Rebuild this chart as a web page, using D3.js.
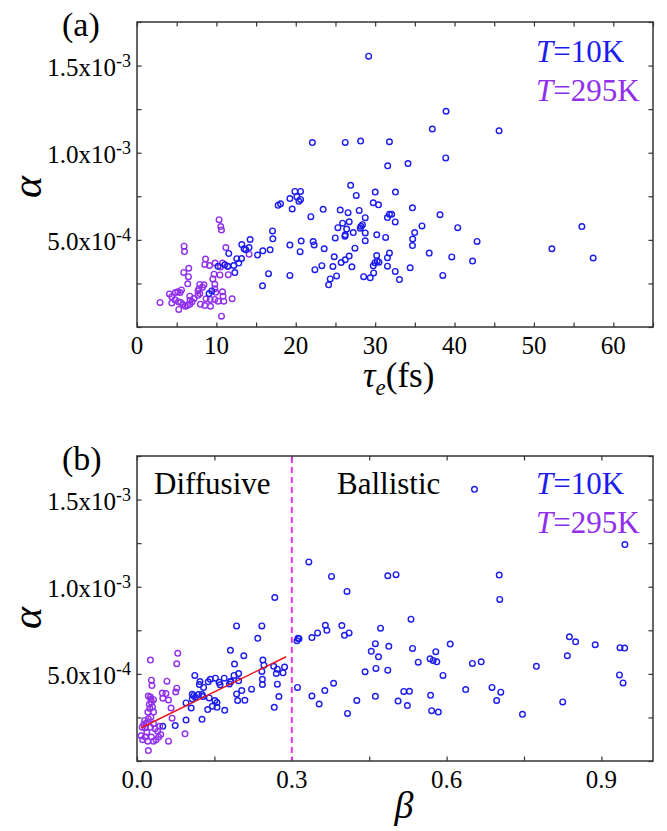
<!DOCTYPE html>
<html>
<head>
<meta charset="utf-8">
<script src="https://cdn.jsdelivr.net/npm/d3@7"></script>
<style>
  body { margin: 0; background: #fff; }
  svg text { font-family: "Times New Roman", Times, "Liberation Serif", "DejaVu Serif", "Noto Serif", serif; }
  .tick line { stroke: #333; stroke-width: 1.2; }
</style>
</head>
<body>
<script>
// alpha values are stored in units of 1e-4
const ALPHA_UNIT = 1e-4;

// panel (a): alpha vs tau_e (fs)
const tau10K = [29.18, 22.09, 38.93, 37.2, 45.61, 26.23, 28.17, 31.8, 31.58, 34.14, 38.89, 26.91, 27.62, 30.01, 32.56,
  19.89, 20.6, 20.14, 20.39, 20.6, 19.26, 19.55, 17.78, 18.08, 23.45, 21.9, 25.6, 26.59, 27.99, 29.76, 30.42, 34.7, 38.17,
  25.9, 26.73, 28.75, 31.55, 31.8, 32.08, 32.53, 25.31, 26.41, 28.21, 28.4, 28.12, 27.24, 28.75, 26.23, 26.19, 24.97,
  30.2, 31.32, 28.75, 35.9, 34.98, 34.73, 34.7, 40.4, 42.84, 56.04, 52.26, 57.46, 19.26, 20.68, 20.55, 22.19, 22.32,
  23.58, 27.45, 24.84, 26.73, 26.23, 25.72, 30.19, 30.26, 29.97, 30.48, 31.8, 31.55, 36.81, 39.65, 42.27, 23.29, 22.41,
  24.68, 25.14, 27.07, 29.76, 29.81, 31.55, 32.53, 34.41, 38.52, 24.34, 24.14, 28.55, 29.38, 33.06, 19.26, 17.07, 17.11,
  14.25, 13.2, 13.49, 13.71, 14.12, 11.56, 12.57, 13.17, 15.18, 15.85, 16.77, 12.82, 12.19, 12.32, 11.06, 11.44, 10.21,
  16.57, 15.81, 9.42, 9.08];
const alphaTau10K = [15.54, 10.58, 12.38, 11.36, 11.26, 10.59, 10.67, 10.63, 9.25, 9.38, 9.70, 8.13, 7.55, 7.74, 7.74,
  7.78, 7.78, 7.48, 7.21, 7.32, 7.37, 6.77, 6.98, 7.07, 6.75, 6.33, 6.71, 6.56, 6.69, 7.13, 7.01, 6.84, 6.44,
  5.96, 6.04, 6.27, 6.28, 6.47, 6.47, 6.03, 5.70, 5.62, 5.78, 5.87, 5.67, 5.42, 5.40, 5.29, 5.21, 5.11,
  5.29, 5.14, 4.95, 5.80, 5.42, 5.05, 4.67, 5.70, 4.91, 5.76, 4.49, 3.96, 4.70, 4.93, 4.32, 4.90, 4.71,
  4.49, 4.52, 4.03, 4.07, 3.86, 3.70, 4.10, 3.78, 3.69, 3.72, 4.24, 3.98, 4.24, 4.02, 3.78, 3.52, 3.29,
  3.47, 2.93, 3.45, 3.51, 3.10, 3.49, 3.19, 3.40, 2.96, 2.76, 2.42, 2.89, 2.82, 2.72, 2.96, 5.51, 5.06,
  5.02, 4.73, 4.49, 4.43, 4.56, 4.22, 3.92, 3.93, 4.13, 4.37, 4.43, 3.67, 3.53, 3.12, 3.57, 3.48, 3.48,
  3.06, 2.36, 2.07, 1.92];

const tau295K = [10.34, 10.55, 10.64, 5.93, 5.98, 11.19, 14.12, 8.63, 8.54, 9.13, 9.84, 10.77, 10.52, 11.44, 6.52,
  5.89, 6.48, 9.71, 9.55, 9.80, 9.80, 10.45, 11.5, 6.39, 7.91, 8.44, 7.81, 8.25, 7.69, 7.91, 7.69, 5.60, 5.42,
  5.13, 4.84, 4.09, 4.38, 9.92, 10.77, 10.84, 11.98, 6.65, 7.19, 6.68, 6.94, 4.79, 4.38, 5.22, 5.51, 5.80, 6.10,
  6.36, 6.65, 2.90, 5.26, 8.70, 9.21, 9.80, 10.21, 10.93, 7.99, 8.54, 9.26, 10.64];
const alphaTau295K = [6.16, 5.76, 5.57, 4.64, 4.33, 4.56, 4.18, 3.90, 3.59, 3.53, 3.67, 3.67, 3.44, 3.49, 3.37,
  3.13, 2.89, 3.03, 2.76, 2.45, 2.19, 2.99, 3.0, 2.48, 2.44, 2.42, 2.20, 2.28, 2.07, 1.92, 1.82, 2.13, 1.98,
  2.02, 1.98, 1.90, 1.73, 1.99, 2.02, 1.77, 1.62, 1.77, 1.63, 1.54, 1.45, 1.56, 1.37, 1.45, 1.41, 1.29, 1.19,
  1.25, 1.31, 1.41, 1.01, 1.62, 1.58, 1.58, 1.48, 1.48, 1.31, 1.23, 1.19, 0.62];

// panel (b): alpha vs beta
const beta10K = [0.654, 0.9455, 0.377, 0.486, 0.502, 0.702, 0.703, 0.407, 0.531, 0.397, 0.472, 0.333, 0.365, 0.368,
  0.402, 0.411, 0.350, 0.339, 0.312, 0.310, 0.193, 0.242, 0.234, 0.181, 0.207, 0.189, 0.244, 0.246, 0.265, 0.272,
  0.286, 0.242, 0.270, 0.283, 0.243, 0.243, 0.272, 0.275, 0.266, 0.311, 0.339, 0.353, 0.364, 0.381, 0.462, 0.454,
  0.468, 0.488, 0.534, 0.545, 0.607, 0.579, 0.568, 0.574, 0.581, 0.442, 0.463, 0.486, 0.593, 0.650, 0.667, 0.774,
  0.838, 0.850, 0.834, 0.888, 0.936, 0.945, 0.935, 0.942, 0.426, 0.408, 0.462, 0.506, 0.524, 0.517, 0.528, 0.569,
  0.571, 0.584, 0.637, 0.688, 0.705, 0.697, 0.747, 0.825, 0.267, 0.197, 0.188, 0.197, 0.169, 0.159, 0.152, 0.181,
  0.182, 0.179, 0.193, 0.203, 0.222, 0.195, 0.209, 0.170, 0.142, 0.138, 0.129, 0.122, 0.121, 0.126, 0.128, 0.140,
  0.151, 0.137, 0.146, 0.155, 0.155, 0.112, 0.107, 0.110, 0.107, 0.113, 0.119, 0.095, 0.105, 0.095, 0.074, 0.126,
  0.050, 0.161, 0.314];
const alphaBeta10K = [15.59, 12.42, 10.59, 10.63, 10.69, 10.67, 9.27, 9.73, 8.14, 7.77, 7.62, 11.42, 7.79, 7.50,
  7.21, 7.35, 7.35, 7.08, 7.04, 6.90, 7.75, 7.75, 7.04, 6.35, 6.04, 5.56, 5.79, 5.50, 5.43, 5.27,
  5.39, 5.14, 5.02, 5.06, 4.69, 4.39, 4.41, 3.70, 3.08, 4.22, 3.73, 3.27, 4.04, 4.46, 6.73, 6.29,
  5.98, 6.58, 6.46, 5.67, 6.71, 6.27, 5.86, 5.77, 5.69, 5.12, 5.31, 5.21, 4.91, 5.60, 5.69, 5.43,
  7.13, 6.84, 6.04, 6.67, 6.50, 6.48, 4.94, 4.48, 3.47, 2.73, 3.71, 3.44, 3.18, 3.99, 4.00, 3.77,
  2.89, 2.81, 4.10, 4.22, 3.95, 3.47, 2.68, 3.39, 9.38, 5.02, 4.91, 4.60, 4.75, 4.52, 4.75, 4.54,
  4.58, 4.42, 3.85, 4.04, 4.12, 3.47, 3.48, 2.91, 4.69, 4.54, 4.22, 4.56, 4.39, 3.81, 3.70, 3.62,
  3.47, 2.95, 3.14, 3.35, 3.08, 4.91, 3.83, 3.75, 3.56, 3.66, 3.81, 3.33, 3.04, 2.35, 2.03, 2.39,
  1.99, 4.37, 7.02];

const beta295K = [0.026, 0.079, 0.077, 0.028, 0.029, 0.058, 0.077, 0.075, 0.056, 0.061, 0.050, 0.022, 0.026, 0.028,
  0.030, 0.032, 0.027, 0.022, 0.018, 0.013, 0.016, 0.026, 0.032, 0.008, 0.011, 0.016, 0.021, 0.028, 0.032, 0.037,
  0.042, 0.046, 0.022, 0.061, 0.093, 0.068, 0.066, 0.044, 0.040, 0.035, 0.019, 0.015, 0.010, 0.021, 0.025, 0.024,
  0.027, 0.032, 0.049];
const alphaBeta295K = [5.79, 6.18, 5.58, 4.64, 4.33, 4.58, 4.18, 3.96, 3.87, 3.50, 3.60, 3.73, 3.67, 3.37,
  3.10, 2.81, 2.52, 2.43, 2.18, 2.10, 1.91, 1.94, 2.14, 1.45, 1.22, 1.37, 1.14, 1.37, 1.14, 1.22,
  1.37, 1.52, 0.60, 1.14, 1.56, 2.46, 3.04, 1.99, 1.71, 1.85, 1.66, 2.33, 1.94, 2.81, 3.01, 3.25,
  3.54, 3.52, 3.90];

// linear fit in the diffusive regime and the crossover
const fitBeta = [0.008, 0.289];
const fitAlpha = [1.91, 5.98];
const crossoverBeta = 0.3;

// ticks
const alphaTicks = [5, 10, 15];
const alphaMantissa = ["5.0", "1.0", "1.5"];
const alphaExponent = ["-4", "-3", "-3"];
const alphaMinor = d3.range(0, 17.51, 2.5);
const tauTicks = [0, 10, 20, 30, 40, 50, 60];
const tauMinor = d3.range(0, 65.1, 5);
const betaTicks = [0, 0.3, 0.6, 0.9];
const betaTickLabels = ["0.0", "0.3", "0.6", "0.9"];
const betaMinor = [0, 0.15, 0.3, 0.45, 0.6, 0.75, 0.9];

const BLUE = "#1c1cf0", PURPLE = "#9030ee";

const W = 667, H = 831, L = 137, R = 653;

const svg = d3.select("body").append("svg").attr("width", W).attr("height", H);

function drawPanel(cfg) {
  const g = svg.append("g");
  const x = d3.scaleLinear().domain(cfg.xDomain).range([L, R]);
  const y = d3.scaleLinear().domain([0, 17.5]).range([cfg.bottom, cfg.top]);

  // ticks on all four sides, pointing inward
  const sides = [
    [d3.axisBottom(x), `translate(0,${cfg.bottom})`, cfg.xMinor],
    [d3.axisTop(x), `translate(0,${cfg.top})`, cfg.xMinor],
    [d3.axisLeft(y), `translate(${L},0)`, alphaMinor],
    [d3.axisRight(y), `translate(${R},0)`, alphaMinor]
  ];
  sides.forEach(([ax, tr, vals]) => {
    g.append("g")
      .attr("transform", tr)
      .call(ax.tickValues(vals).tickSizeInner(-4.5).tickSizeOuter(0).tickFormat(""))
      .call(s => s.select(".domain").remove());
  });

  g.append("rect")
    .attr("x", L).attr("y", cfg.top)
    .attr("width", R - L).attr("height", cfg.bottom - cfg.top)
    .attr("fill", "none").attr("stroke", "#333").attr("stroke-width", 1.5);

  // x tick labels
  g.selectAll(".xl").data(cfg.xTicks).enter().append("text")
    .attr("x", d => x(d))
    .attr("y", cfg.bottom + 27)
    .attr("text-anchor", "middle")
    .attr("font-size", 25)
    .text((d, i) => cfg.xLabels[i]);

  // y tick labels with superscript exponent
  const yl = g.selectAll(".yl").data(alphaTicks).enter().append("text")
    .attr("x", L - 6)
    .attr("y", d => y(d) + 10)
    .attr("text-anchor", "end")
    .attr("font-size", 25);
  yl.append("tspan").text((d, i) => alphaMantissa[i] + "x10");
  yl.append("tspan").attr("font-size", 18).attr("dy", -9).text((d, i) => alphaExponent[i]);

  // y title
  g.append("text")
    .attr("transform", `translate(27,${cfg.alphaY}) rotate(-90)`)
    .attr("text-anchor", "middle")
    .attr("dominant-baseline", "central")
    .attr("font-size", 42)
    .attr("font-style", "italic")
    .text("α");

  // panel letter
  g.append("text")
    .attr("x", 62).attr("y", cfg.top + 14)
    .attr("font-size", 34)
    .text(cfg.letter);

  // legend
  [["10K", BLUE, cfg.legendY], ["295K", PURPLE, cfg.legendY + 39]].forEach(([t, c, yy]) => {
    const tx = g.append("text").attr("x", 536).attr("y", yy)
      .attr("font-size", 31).attr("fill", c);
    tx.append("tspan").attr("font-style", "italic").text("T");
    tx.append("tspan").text("=" + t);
  });

  return { g, x, y };
}

function drawPoints(p, xs, ys, color) {
  p.g.append("g").selectAll("circle").data(xs).enter().append("circle")
    .attr("cx", d => p.x(d))
    .attr("cy", (d, i) => p.y(ys[i]))
    .attr("r", 2.8)
    .attr("fill", "none")
    .attr("stroke", color)
    .attr("stroke-width", 1.4);
}

// ---- panel (a)
const pa = drawPanel({
  xDomain: [0, 65], top: 22, bottom: 327, xTicks: tauTicks, xLabels: tauTicks.map(String),
  xMinor: tauMinor, letter: "(a)", legendY: 62, alphaY: 187
});
drawPoints(pa, tau295K, alphaTau295K, PURPLE);
drawPoints(pa, tau10K, alphaTau10K, BLUE);

const xt = pa.g.append("text").attr("x", 363).attr("y", 387).attr("font-size", 35);
xt.append("tspan").attr("font-style", "italic").text("τ");
xt.append("tspan").attr("font-style", "italic").attr("font-size", 23).attr("dy", 8).text("e");
xt.append("tspan").attr("dy", -8).text("(fs)");

// ---- panel (b)
const pb = drawPanel({
  xDomain: [0, 1.0], top: 456, bottom: 761, xTicks: betaTicks, xLabels: betaTickLabels,
  xMinor: betaMinor, letter: "(b)", legendY: 494, alphaY: 618
});

pb.g.append("line")
  .attr("x1", pb.x(crossoverBeta)).attr("x2", pb.x(crossoverBeta))
  .attr("y1", 457).attr("y2", 760)
  .attr("stroke", "#e436e4").attr("stroke-width", 2).attr("stroke-dasharray", "6,4");

drawPoints(pb, beta10K, alphaBeta10K, BLUE);
drawPoints(pb, beta295K, alphaBeta295K, PURPLE);

pb.g.append("line")
  .attr("x1", pb.x(fitBeta[0])).attr("y1", pb.y(fitAlpha[0]))
  .attr("x2", pb.x(fitBeta[1])).attr("y2", pb.y(fitAlpha[1]))
  .attr("stroke", "#e8141c").attr("stroke-width", 1.5);

pb.g.append("text").attr("x", 154).attr("y", 494).attr("font-size", 31).text("Diffusive");
pb.g.append("text").attr("x", 337).attr("y", 494).attr("font-size", 31).text("Ballistic");

pb.g.append("text")
  .attr("x", 404).attr("y", 818)
  .attr("text-anchor", "middle")
  .attr("font-size", 38)
  .attr("font-style", "italic")
  .text("β");
</script>
</body>
</html>
